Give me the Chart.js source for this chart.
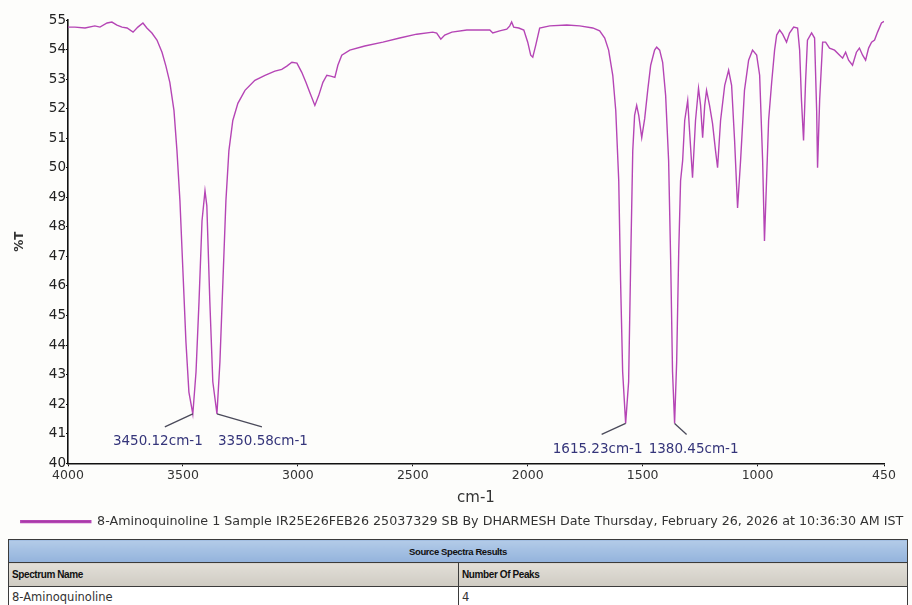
<!DOCTYPE html>
<html>
<head>
<meta charset="utf-8">
<script src="https://cdn.jsdelivr.net/npm/chart.js@4/dist/chart.umd.min.js"></script>
<style>
  html, body { margin: 0; padding: 0; background: #fdfdfb; }
  #wrap { position: relative; width: 912px; height: 605px; overflow: hidden; background: #fdfdfb; }
  #chartBox { position: absolute; left: 0; top: 0; width: 912px; height: 538px; }
  table.res { position: absolute; left: 8px; top: 539px; width: 900px; border-collapse: collapse;
    font-family: "Liberation Sans Narrow", "Liberation Sans", Arial, sans-serif; color: #111; }
  table.res td { border: 1.5px solid #3b3b3b; padding: 0 3px; }
  tr.h1 td { background: linear-gradient(#b3cbe8, #93b3dc); height: 22px; text-align: center; font-weight: bold; font-size: 9.5px; letter-spacing: -0.4px; }
  tr.h2 td { background: linear-gradient(#e2dfd8, #cfcbc2); height: 23px; font-weight: bold; font-size: 10px; letter-spacing: -0.4px; }
  tr.r1 td { background: #fff; height: 20px; font-family: "DejaVu Sans", sans-serif; font-size: 11.5px; color: #333; }
</style>
</head>
<body>
<div id="wrap">
  <div id="chartBox"><canvas id="c"></canvas></div>
  <table class="res">
    <tr class="h1"><td colspan="2">Source Spectra Results</td></tr>
    <tr class="h2"><td style="width:443px">Spectrum Name</td><td>Number Of Peaks</td></tr>
    <tr class="r1"><td>8-Aminoquinoline</td><td>4</td></tr>
  </table>
</div>
<script>
// ---- data ----
const wavenumbers = [4000,3970,3926,3883,3861,3830,3809,3787,3765,3743,3717,3696,3674,3657,3635,3613,3591,3574,3557,3539,3526,3513,3500,3487,3474,3457,3443,3430,3417,3404,3396,3383,3370,3352,3339,3326,3313,3300,3283,3261,3230,3187,3143,3100,3070,3048,3026,3004,2983,2965,2948,2926,2909,2891,2874,2857,2839,2826,2809,2774,2709,2630,2557,2483,2413,2396,2378,2361,2330,2265,2165,2152,2122,2091,2078,2070,2061,2039,2017,2000,1987,1978,1965,1948,1904,1830,1774,1717,1687,1665,1648,1630,1617,1604,1596,1587,1574,1561,1552,1543,1535,1526,1517,1504,1491,1478,1465,1448,1439,1426,1413,1400,1387,1378,1370,1361,1352,1343,1335,1326,1317,1304,1296,1283,1270,1257,1248,1239,1230,1222,1209,1196,1183,1174,1161,1143,1126,1113,1100,1087,1074,1057,1039,1022,1004,991,978,970,961,952,939,926,917,904,891,874,861,843,826,817,809,800,791,783,765,752,743,739,730,717,704,687,665,643,630,617,604,587,570,557,543,530,517,504,491,478,461,450];
const transmittance = [54.76,54.76,54.73,54.80,54.76,54.90,54.93,54.83,54.76,54.73,54.59,54.76,54.90,54.73,54.56,54.32,53.91,53.44,52.89,51.94,50.58,48.88,46.50,44.12,42.41,41.67,43.10,45.48,48.20,49.22,48.71,45.48,42.76,41.67,43.44,46.16,48.88,50.58,51.60,52.18,52.62,52.96,53.13,53.27,53.33,53.44,53.57,53.54,53.23,52.89,52.55,52.11,52.45,52.89,53.13,53.10,53.06,53.47,53.81,53.98,54.12,54.25,54.39,54.52,54.59,54.56,54.35,54.49,54.59,54.66,54.66,54.56,54.63,54.69,54.80,54.93,54.76,54.73,54.66,54.25,53.81,53.74,54.15,54.73,54.80,54.83,54.80,54.73,54.63,54.39,53.98,53.13,51.94,49.56,46.16,43.10,41.35,42.76,46.84,50.58,51.77,52.11,51.77,51.02,51.67,52.62,53.47,53.98,54.08,53.98,53.57,52.45,50.24,46.84,43.10,41.35,43.44,47.18,49.56,50.24,51.60,52.28,51.26,49.66,51.60,52.69,52.11,51.02,52.11,52.62,52.11,51.50,50.58,50.00,51.60,52.79,53.30,52.79,50.92,48.64,50.24,52.62,53.64,53.98,53.81,53.13,50.24,47.52,49.56,51.60,52.86,53.98,54.49,54.66,54.52,54.25,54.56,54.76,54.73,53.98,52.28,50.92,52.96,54.32,54.56,54.39,51.94,50.00,52.28,54.25,54.25,54.05,53.98,53.81,53.71,53.91,53.64,53.47,53.91,54.05,53.81,53.64,54.05,54.25,54.32,54.59,54.90,54.95];
const xTickValues = [4000, 3500, 3000, 2500, 2000, 1500, 1000, 450];
const seriesName = '8-Aminoquinoline 1 Sample IR25E26FEB26 25037329 SB By DHARMESH Date Thursday, February 26, 2026 at 10:36:30 AM IST';
const peakLabels = ['3450.12cm-1', '3350.58cm-1', '1615.23cm-1', '1380.45cm-1'];
const peakTipX = [3457, 3352, 1574, 1361];
const peakTipY = [41.67, 41.67, 41.35, 41.35];

const points = wavenumbers.map((w, i) => ({ x: w, y: transmittance[i] }));

// label layout: leader-line end offset and text centre offset, per peak (pixels)
const peakLayout = [
  { lx: -28, ly: 13, tx: -35, ty: 28 },
  { lx: 45, ly: 13, tx: 46, ty: 28 },
  { lx: -24, ly: 11, tx: -28, ty: 26 },
  { lx: 12, ly: 11, tx: 19, ty: 26 }
];

const peakPlugin = {
  id: 'peakLabels',
  afterDatasetsDraw(chart) {
    const { ctx, scales } = chart;
    ctx.save();
    ctx.font = '13.5px "DejaVu Sans", sans-serif';
    ctx.textAlign = 'center';
    ctx.textBaseline = 'middle';
    peakLabels.forEach((lab, i) => {
      const px = scales.x.getPixelForValue(peakTipX[i]);
      const py = scales.y.getPixelForValue(peakTipY[i]);
      const L = peakLayout[i];
      ctx.strokeStyle = '#4a4a5a';
      ctx.lineWidth = 1.3;
      ctx.beginPath();
      ctx.moveTo(px, py);
      ctx.lineTo(px + L.lx, py + L.ly);
      ctx.stroke();
      ctx.fillStyle = '#35357a';
      ctx.fillText(lab, px + L.tx, py + L.ty);
    });
    ctx.restore();
  }
};

// let the legend use the full canvas width (the right layout padding only serves the plot)
const legendSpan = {
  id: 'legendSpan',
  afterLayout(chart) {
    const lg = chart.legend;
    if (lg) { lg.left = 12; lg.right = chart.width; }
  }
};

new Chart(document.getElementById('c'), {
  type: 'line',
  data: {
    datasets: [{
      label: seriesName,
      data: points,
      borderColor: '#b545b5',
      backgroundColor: '#a23aa2',
      borderWidth: 1.4,
      pointRadius: 0,
      tension: 0,
      fill: false
    }]
  },
  options: {
    responsive: true,
    maintainAspectRatio: false,
    animation: false,
    layout: { padding: { top: 20, right: 28, left: 0, bottom: 0 } },
    plugins: {
      tooltip: { enabled: false },
      legend: {
        position: 'bottom',
        labels: {
          boxWidth: 70,
          boxHeight: 2,
          padding: 8,
          color: '#333',
          font: { family: '"DejaVu Sans", sans-serif', size: 12.7 }
        }
      }
    },
    scales: {
      x: {
        type: 'linear',
        reverse: true,
        min: 450,
        max: 4000,
        afterBuildTicks: (s) => { s.ticks = xTickValues.map(v => ({ value: v })); },
        afterFit: (s) => { s.height = 44; },
        border: { display: true, color: '#111', width: 1.6 },
        grid: { display: true, drawOnChartArea: false, drawTicks: true, tickLength: 3, color: '#111' },
        ticks: { color: '#333', padding: 2, maxRotation: 0, autoSkip: false,
                 callback: (v) => String(v),
                 font: { family: '"DejaVu Sans", sans-serif', size: 12.5 } },
        title: { display: true, text: 'cm-1', color: '#333', padding: { top: 1, bottom: 0 },
                 font: { family: '"DejaVu Sans", sans-serif', size: 15 } }
      },
      y: {
        min: 40,
        max: 55,
        afterFit: (s) => { s.width = 68; },
        border: { display: true, color: '#111', width: 1.6 },
        grid: { display: true, drawOnChartArea: false, drawTicks: true, tickLength: 2, color: '#111' },
        ticks: { stepSize: 1, color: '#222', padding: 0,
                 font: { family: '"DejaVu Sans", sans-serif', size: 13.5 } },
        title: { display: true, text: '%T', color: '#333', padding: { top: 13, bottom: 0 },
                 font: { family: '"DejaVu Sans", sans-serif', size: 12, weight: 'bold' } }
      }
    }
  },
  plugins: [peakPlugin, legendSpan]
});
</script>
</body>
</html>
